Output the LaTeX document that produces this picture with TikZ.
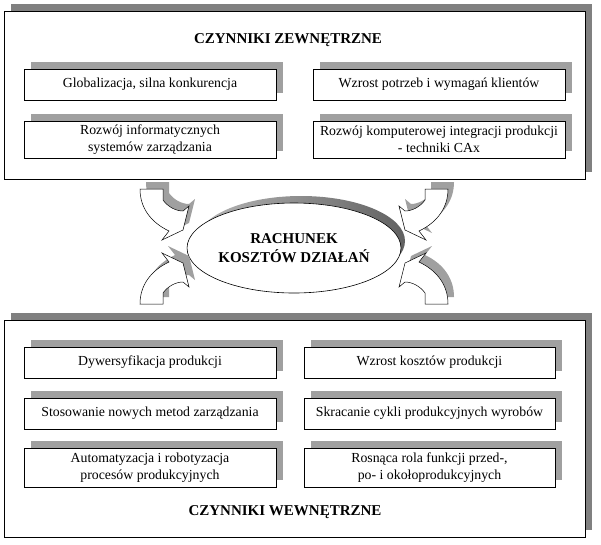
\documentclass[tikz,border=0pt]{standalone}
\usepackage{fontspec}
\setmainfont{Liberation Serif}
\usetikzlibrary{shapes.geometric,shadows}
\definecolor{darkshadow}{RGB}{128,128,128}
\definecolor{lightshadow}{RGB}{160,160,160}
\newcommand{\bentpath}{(140,189) -- (163,189) -- (163,200) .. controls (168,207) and (176,211) .. (183,211) -- (189,206) -- (183,230) -- (162,240) -- (169,231) .. controls (150,222) and (140,207) .. cycle}

\begin{document}
\begin{tikzpicture}[x=1pt,y=-1pt,
  group/.style={draw=black,line width=0.8pt,fill=white,minimum width=581pt,inner sep=0pt,
    drop shadow={shadow xshift=6.5pt,shadow yshift=7pt,opacity=1,fill=darkshadow}},
  factor/.style={draw=black,line width=0.6pt,fill=white,minimum width=252pt,minimum height=31pt,
    inner sep=0pt,align=center,font=\fontsize{13.8}{16.5}\selectfont,
    drop shadow={shadow xshift=6.5pt,shadow yshift=7pt,opacity=1,fill=lightshadow}},
  heading/.style={font=\fontsize{15}{18}\selectfont\bfseries},
  arrowbody/.style={draw=black,line width=0.5pt,fill=white}]
\useasboundingbox (0,0) rectangle (601,544);
\node [group,minimum height=168pt] (outer) at (294.5,95) {};
\node [group,minimum height=217pt] (inner) at (294.5,428.5) {};
\node [heading] (outertitle) at (288,40) {CZYNNIKI ZEWNĘTRZNE};
\node [heading] (innertitle) at (285,512) {CZYNNIKI WEWNĘTRZNE};
\node [factor] (glob) at (150,84.5) {Globalizacja, silna konkurencja};
\node [factor,minimum height=37pt] (inform) at (150,139.5) {Rozwój informatycznych\\systemów zarządzania};
\node [factor] (klienci) at (439,84.5) {Wzrost potrzeb i wymagań klientów};
\node [factor,minimum height=37pt] (cax) at (439,139.5) {Rozwój komputerowej integracji produkcji\\- techniki CAx};
\node [factor] (dywers) at (150,362.5) {Dywersyfikacja produkcji};
\node [factor] (metody) at (150,413.5) {Stosowanie nowych metod zarządzania};
\node [factor,minimum height=39pt] (autom) at (150,467.5) {Automatyzacja i robotyzacja\\procesów produkcyjnych};
\node [factor,minimum width=251pt] (koszty) at (429.5,362.5) {Wzrost kosztów produkcji};
\node [factor,minimum width=251pt] (cykle) at (429.5,413.5) {Skracanie cykli produkcyjnych wyrobów};
\node [factor,minimum width=251pt,minimum height=39pt] (funkcje) at (429.5,467.5) {Rosnąca rola funkcji przed-,\\po- i okołoprodukcyjnych};
\shade [left color=black!28,right color=black!62] (301,241) ellipse [x radius=104pt,y radius=45pt];
\node [ellipse,draw=black,line width=0.6pt,fill=white,minimum width=208pt,minimum height=90pt,inner sep=0pt,
  align=center,font=\fontsize{15}{19}\selectfont\bfseries] (rkd) at (294,248) {RACHUNEK\\KOSZTÓW DZIAŁAŃ};
\foreach \sx/\sy/\dx/\dy in {1/1/0/0,-1/1/588/0,1/-1/0/493,-1/-1/588/493}{
  \fill [lightshadow,shift={(6,-7)},shift={(\dx,\dy)},xscale=\sx,yscale=\sy] \bentpath;
  \draw [arrowbody,shift={(\dx,\dy)},xscale=\sx,yscale=\sy] \bentpath;
}
\end{tikzpicture}
\end{document}
